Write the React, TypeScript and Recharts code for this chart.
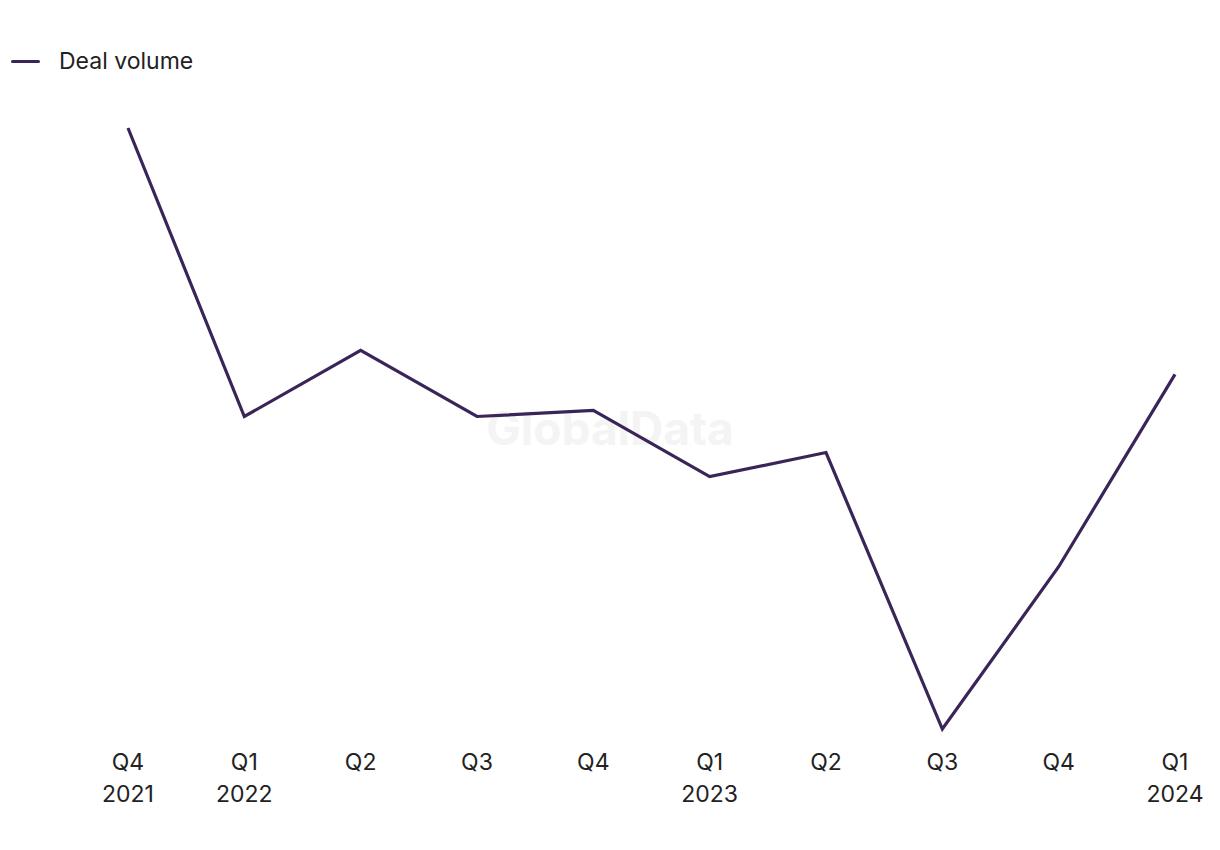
import React from "react";
import { LineChart, Line, XAxis, YAxis, Legend } from "recharts";

const quarters = ["Q4", "Q1", "Q2", "Q3", "Q4", "Q1", "Q2", "Q3", "Q4", "Q1"];
const years = ["2021", "2022", "", "", "", "2023", "", "", "", "2024"];
const dealVolume = [160, 112, 123, 112, 113, 102, 106, 60, 87, 119];

const data = quarters.map((q, i) => ({
  label: `${q}|${years[i]}`,
  deals: dealVolume[i],
}));

const FONT = "Inter, 'Noto Sans', sans-serif";
const LINE_COLOR = "#3a2558";

const QuarterTick = (props: any) => {
  const { x, y, payload } = props;
  const [q, yr] = String(payload.value).split("|");
  return (
    <g transform={`translate(${x},${y})`}>
      <text textAnchor="middle" fill="#222" fontSize={23} fontFamily={FONT}>
        <tspan x={0} dy={33}>{q}</tspan>
        {yr ? <tspan x={0} dy={32}>{yr}</tspan> : null}
      </text>
    </g>
  );
};

const LegendContent = () => (
  <div style={{ display: "flex", alignItems: "center", fontFamily: FONT, fontSize: 23, lineHeight: "25px", color: "#222" }}>
    <span style={{ display: "inline-block", width: 29, height: 3.5, background: LINE_COLOR, borderRadius: 2, marginRight: 19 }} />
    Deal volume
  </div>
);

export default function App() {
  return (
    <div style={{ position: "absolute", left: 0, top: 0, width: 1220, height: 850, background: "#fff" }}>
      <div
        style={{
          position: "absolute",
          left: 0,
          top: 400,
          width: 1220,
          textAlign: "center",
          fontFamily: FONT,
          fontWeight: 700,
          fontSize: 46,
          color: "#f4f4f4",
        }}
      >
        GlobalData
      </div>
      <div style={{ position: "absolute", left: 0, top: 0 }}>
        <LineChart width={1220} height={850} data={data} margin={{ top: 103, right: 45, bottom: 61, left: 128 }}>
          <XAxis
            dataKey="label"
            axisLine={false}
            tickLine={false}
            height={60}
            interval={0}
            tick={<QuarterTick />}
          />
          <YAxis hide domain={[60, 160]} />
          <Legend
            verticalAlign="top"
            content={<LegendContent />}
            wrapperStyle={{ position: "absolute", top: 49, left: 11, width: "auto", height: 25 }}
          />
          <Line
            type="linear"
            dataKey="deals"
            stroke={LINE_COLOR}
            strokeWidth={3.2}
            dot={false}
            isAnimationActive={false}
          />
        </LineChart>
      </div>
    </div>
  );
}
